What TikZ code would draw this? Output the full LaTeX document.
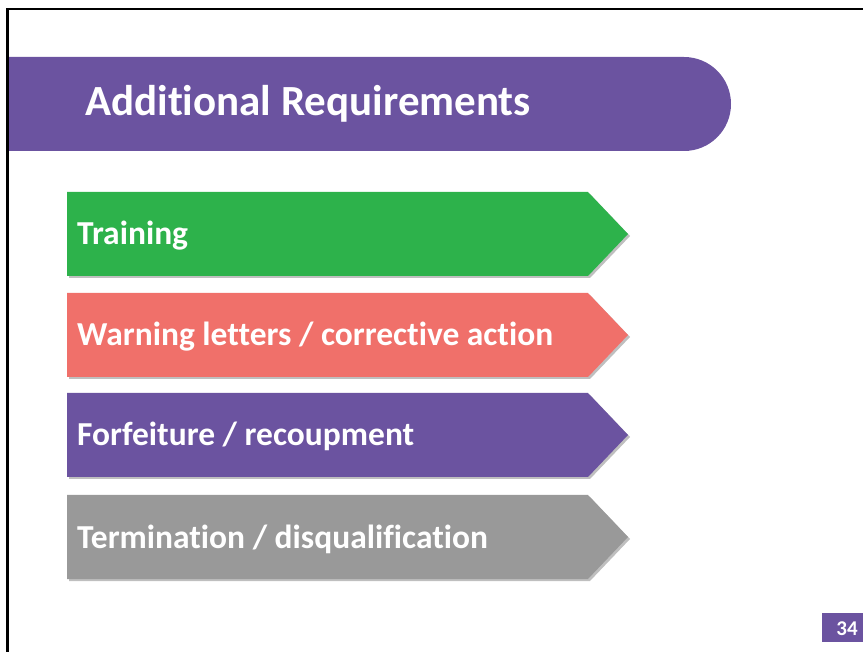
\documentclass[tikz,border=0pt]{standalone}
\usepackage{fontspec}
\setmainfont{Carlito}[Ligatures=NoCommon]
\usetikzlibrary{shadows}
\definecolor{titlepurple}{RGB}{107,83,160}
\definecolor{traingreen}{RGB}{45,178,75}
\definecolor{warnred}{RGB}{240,112,106}
\definecolor{termgray}{RGB}{153,153,153}
\tikzset{
  arrowbox/.style={drop shadow={shadow xshift=2pt,shadow yshift=-2pt,opacity=0.25,fill=black}},
  itemtext/.style={anchor=base west,inner sep=0pt,text=white,font=\fontsize{33.5}{38}\selectfont\bfseries},
}
\begin{document}
\begin{tikzpicture}[x=1pt,y=-1pt]
   \useasboundingbox (0,0) rectangle (863,652);
   % title bar
   \fill[titlepurple] (9,57) -- (684,57) arc[start angle=-90,end angle=90,radius=47] -- (9,151) -- cycle;
   \node[anchor=base west,inner sep=0pt,text=white,font=\fontsize{43}{48}\selectfont\bfseries] (title) at (85,116) {Additional Requirements};
   % arrows
   \path[arrowbox,fill=traingreen] (67,192) -- ++(521,0) -- ++(40,42) -- ++(-40,42) -- ++(-521,0) -- cycle;
   \node[itemtext] (training) at (77,245) {Training};
   \path[arrowbox,fill=warnred] (67,293) -- ++(521,0) -- ++(40,42) -- ++(-40,42) -- ++(-521,0) -- cycle;
   \node[itemtext] (warning) at (77,346) {Warning letters / corrective action};
   \path[arrowbox,fill=titlepurple] (67,393) -- ++(521,0) -- ++(40,42) -- ++(-40,42) -- ++(-521,0) -- cycle;
   \node[itemtext] (forfeiture) at (77,446) {Forfeiture / recoupment};
   \path[arrowbox,fill=termgray] (67,495) -- ++(521,0) -- ++(40,42) -- ++(-40,42) -- ++(-521,0) -- cycle;
   \node[itemtext] (termination) at (77,548) {Termination / disqualification};
   % page number
   \fill[titlepurple] (822,613) rectangle (872,642);
   \node[anchor=base,inner sep=0pt,text=white,font=\fontsize{21}{22}\selectfont\bfseries] (pagenum) at (847,635) {34};
   % frame
   \draw[line width=2.5pt] (7.5,652) -- (7.5,9) -- (863,9);
\end{tikzpicture}
\end{document}
